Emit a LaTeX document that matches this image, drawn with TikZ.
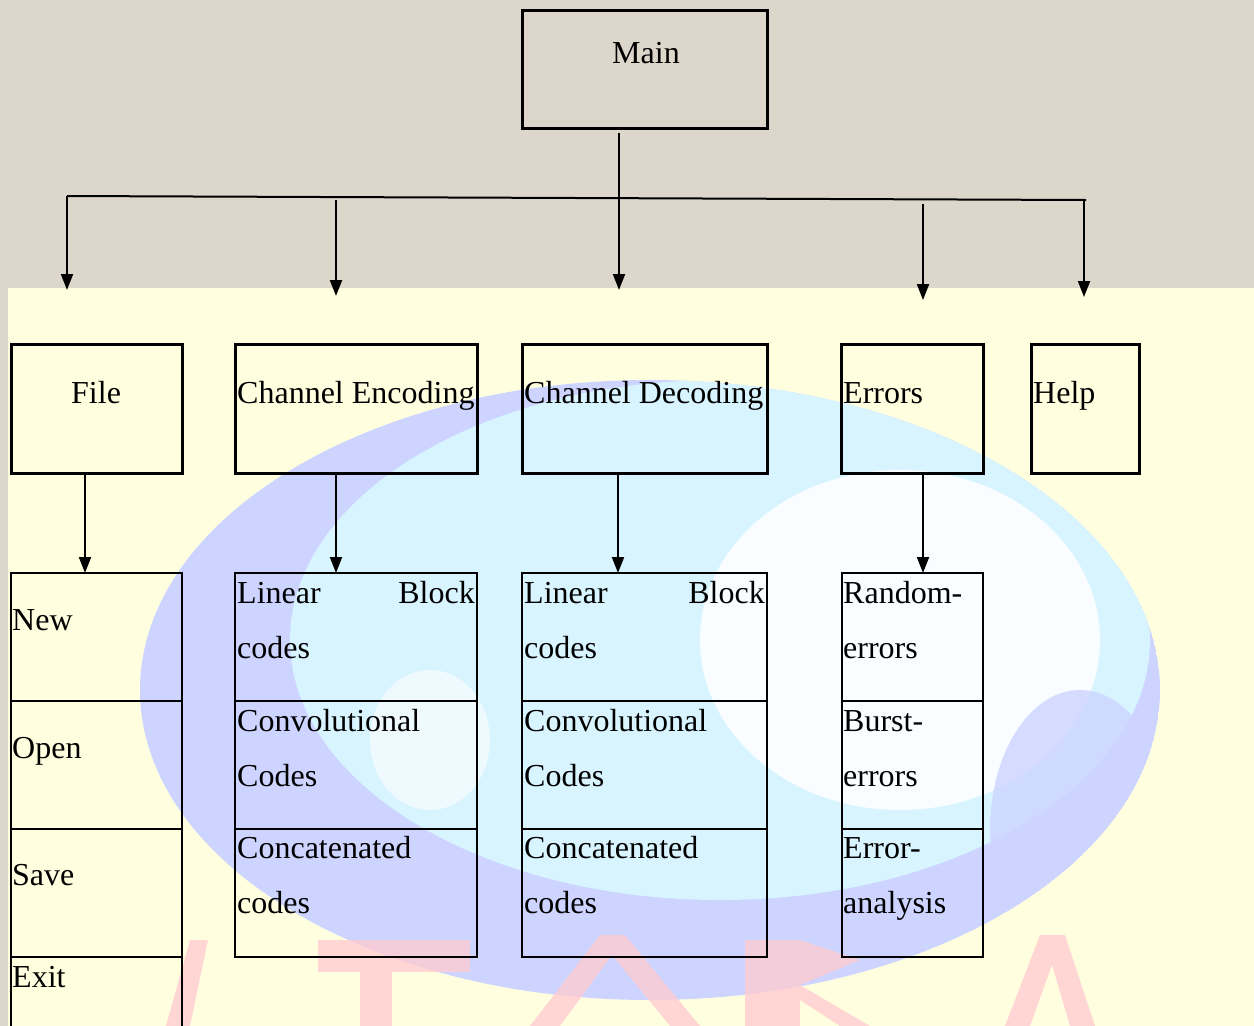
\documentclass[tikz,border=0pt]{standalone}
\usepackage{fontspec}
\setmainfont{Liberation Serif}
\usepackage{tikz}
\usetikzlibrary{positioning,arrows.meta}

\definecolor{paper}{HTML}{DDD6CB}
\definecolor{pale}{HTML}{FFFFE0}
\definecolor{globeblue}{HTML}{CCD4FF}
\definecolor{globecyan}{HTML}{D8F4FF}
\definecolor{wmark}{HTML}{FFCCD2}

\tikzset{
  topbox/.style={draw, line width=3pt, inner sep=0pt, outer sep=0pt, anchor=north west},
  cell/.style={draw, line width=2.2pt, inner sep=0pt, outer sep=0pt, anchor=north west},
  txt/.style={anchor=base west, inner sep=0pt, font=\fontsize{32}{38}\selectfont},
  txtr/.style={txt, anchor=base east},
  link/.style={line width=2pt},
  arr/.style={link, -{Triangle[length=16pt,width=12pt]}},
}

\begin{document}
\begin{tikzpicture}[x=1pt,y=-1pt]
  \useasboundingbox (0,0) rectangle (1254,1026);
  % background
  \fill[paper] (0,0) rectangle (1254,1026);
  \fill[pale] (8,288) rectangle (1254,1026);
  \begin{scope}
    \clip (650,690) ellipse [x radius=510, y radius=310];
    \fill[globeblue] (650,690) ellipse [x radius=510, y radius=310];
    \fill[globecyan] (720,640) ellipse [x radius=430, y radius=260];
    \fill[white, opacity=0.85] (900,640) ellipse [x radius=200, y radius=170];
    \fill[white, opacity=0.6] (430,740) ellipse [x radius=60, y radius=70];
    \fill[globeblue, opacity=0.8] (1080,830) ellipse [x radius=90, y radius=140];
  \end{scope}
  \fill[wmark, opacity=0.8] (190,940) -- (208,940) -- (190,1026) -- (166,1026) -- cycle;
  \fill[wmark, opacity=0.8] (318,940) rectangle (470,972);
  \fill[wmark, opacity=0.8] (360,972) rectangle (392,1026);
  \fill[wmark, opacity=0.8] (600,935) -- (625,935) -- (700,1026) -- (670,1026) -- (612,955) -- (560,1026) -- (530,1026) -- cycle;
  \fill[wmark, opacity=0.8] (745,940) rectangle (800,1026);
  \fill[wmark, opacity=0.8] (800,940) -- (860,960) -- (800,985) -- (870,1026) -- (840,1026) -- (800,1000) -- cycle;
  \fill[wmark, opacity=0.8] (1040,935) -- (1065,935) -- (1095,1026) -- (1070,1026) -- (1052,965) -- (1030,1026) -- (1005,1026) -- cycle;

  % main
  \node[topbox, minimum width=245, minimum height=118] (main) at (522,10) {};
  \node[txt] (mainT) at (612,63) {Main};

  % menu row
  \node[topbox, minimum width=171, minimum height=129] (file) at (11,344) {};
  \node[topbox, minimum width=242, minimum height=129] (enc) at (235,344) {};
  \node[topbox, minimum width=245, minimum height=129] (dec) at (522,344) {};
  \node[topbox, minimum width=142, minimum height=129] (err) at (841,344) {};
  \node[topbox, minimum width=108, minimum height=129] (help) at (1031,344) {};
  \node[txt] (fileT) at (71,403) {File};
  \node[txt] (encT) at (237,403) {Channel Encoding};
  \node[txt] (decT) at (524,403) {Channel Decoding};
  \node[txt] (errT) at (843,403) {Errors};
  \node[txt] (helpT) at (1033,403) {Help};

  % file entries
  \node[cell, minimum width=171, minimum height=128] (new) at (11,573) {};
  \node[cell, minimum width=171, minimum height=128] (open) at (11,701) {};
  \node[cell, minimum width=171, minimum height=128] (save) at (11,829) {};
  \node[cell, minimum width=171, minimum height=100] (exit) at (11,957) {};
  \node[txt] (newT) at (12,630) {New};
  \node[txt] (openT) at (12,758) {Open};
  \node[txt] (saveT) at (12,885) {Save};
  \node[txt] (exitT) at (12,987) {Exit};

  % coding entries
  \foreach \c/\x/\w in {E/235/242,D/522/245}{
    \node[cell, minimum width=\w, minimum height=128] (lin\c) at (\x,573) {};
    \node[cell, minimum width=\w, minimum height=128] (conv\c) at (\x,701) {};
    \node[cell, minimum width=\w, minimum height=128] (cat\c) at (\x,829) {};
    \node[txt] (linA\c) at (\x+2,603) {Linear};
    \node[txtr] (linB\c) at (\x+\w-2,603) {Block};
    \node[txt] (linC\c) at (\x+2,658) {codes};
    \node[txt] (convA\c) at (\x+2,731) {Convolutional};
    \node[txt] (convB\c) at (\x+2,786) {Codes};
    \node[txt] (catA\c) at (\x+2,858) {Concatenated};
    \node[txt] (catB\c) at (\x+2,913) {codes};
  }

  % error entries
  \node[cell, minimum width=141, minimum height=128] (rand) at (842,573) {};
  \node[cell, minimum width=141, minimum height=128] (burst) at (842,701) {};
  \node[cell, minimum width=141, minimum height=128] (anal) at (842,829) {};
  \node[txt] (randA) at (843,603) {Random-};
  \node[txt] (randB) at (843,658) {errors};
  \node[txt] (burstA) at (843,731) {Burst-};
  \node[txt] (burstB) at (843,786) {errors};
  \node[txt] (analA) at (843,858) {Error-};
  \node[txt] (analB) at (843,913) {analysis};

  % bus
  \coordinate (busL) at (67,196);
  \coordinate (busM) at (619,198);
  \coordinate (busR) at (1086,200);
  \draw[link] ([xshift=-25.5pt,yshift=-5pt]main.south) -- (busM);
  \draw[link] (busL) -- (busR);
  \foreach \n/\x/\a/\b in {F/67/196/290,E/336/200/296,D/619/198/290,R/923/204/300,H/1084/200/297}{
    \coordinate (top\n) at (\x,\a);
    \coordinate (end\n) at (\x,\b);
    \draw[arr] (top\n) -- (end\n);
  }

  % down arrows
  \draw[arr] ([xshift=-11.5pt]file.south) -- ([xshift=-11.5pt]new.north);
  \draw[arr] ([xshift=-20pt]enc.south) -- ([xshift=-20pt]linE.north);
  \draw[arr] ([xshift=-26.5pt]dec.south) -- ([xshift=-26.5pt]linD.north);
  \draw[arr] ([xshift=11pt]err.south) -- ([xshift=10.5pt]rand.north);
\end{tikzpicture}
\end{document}
